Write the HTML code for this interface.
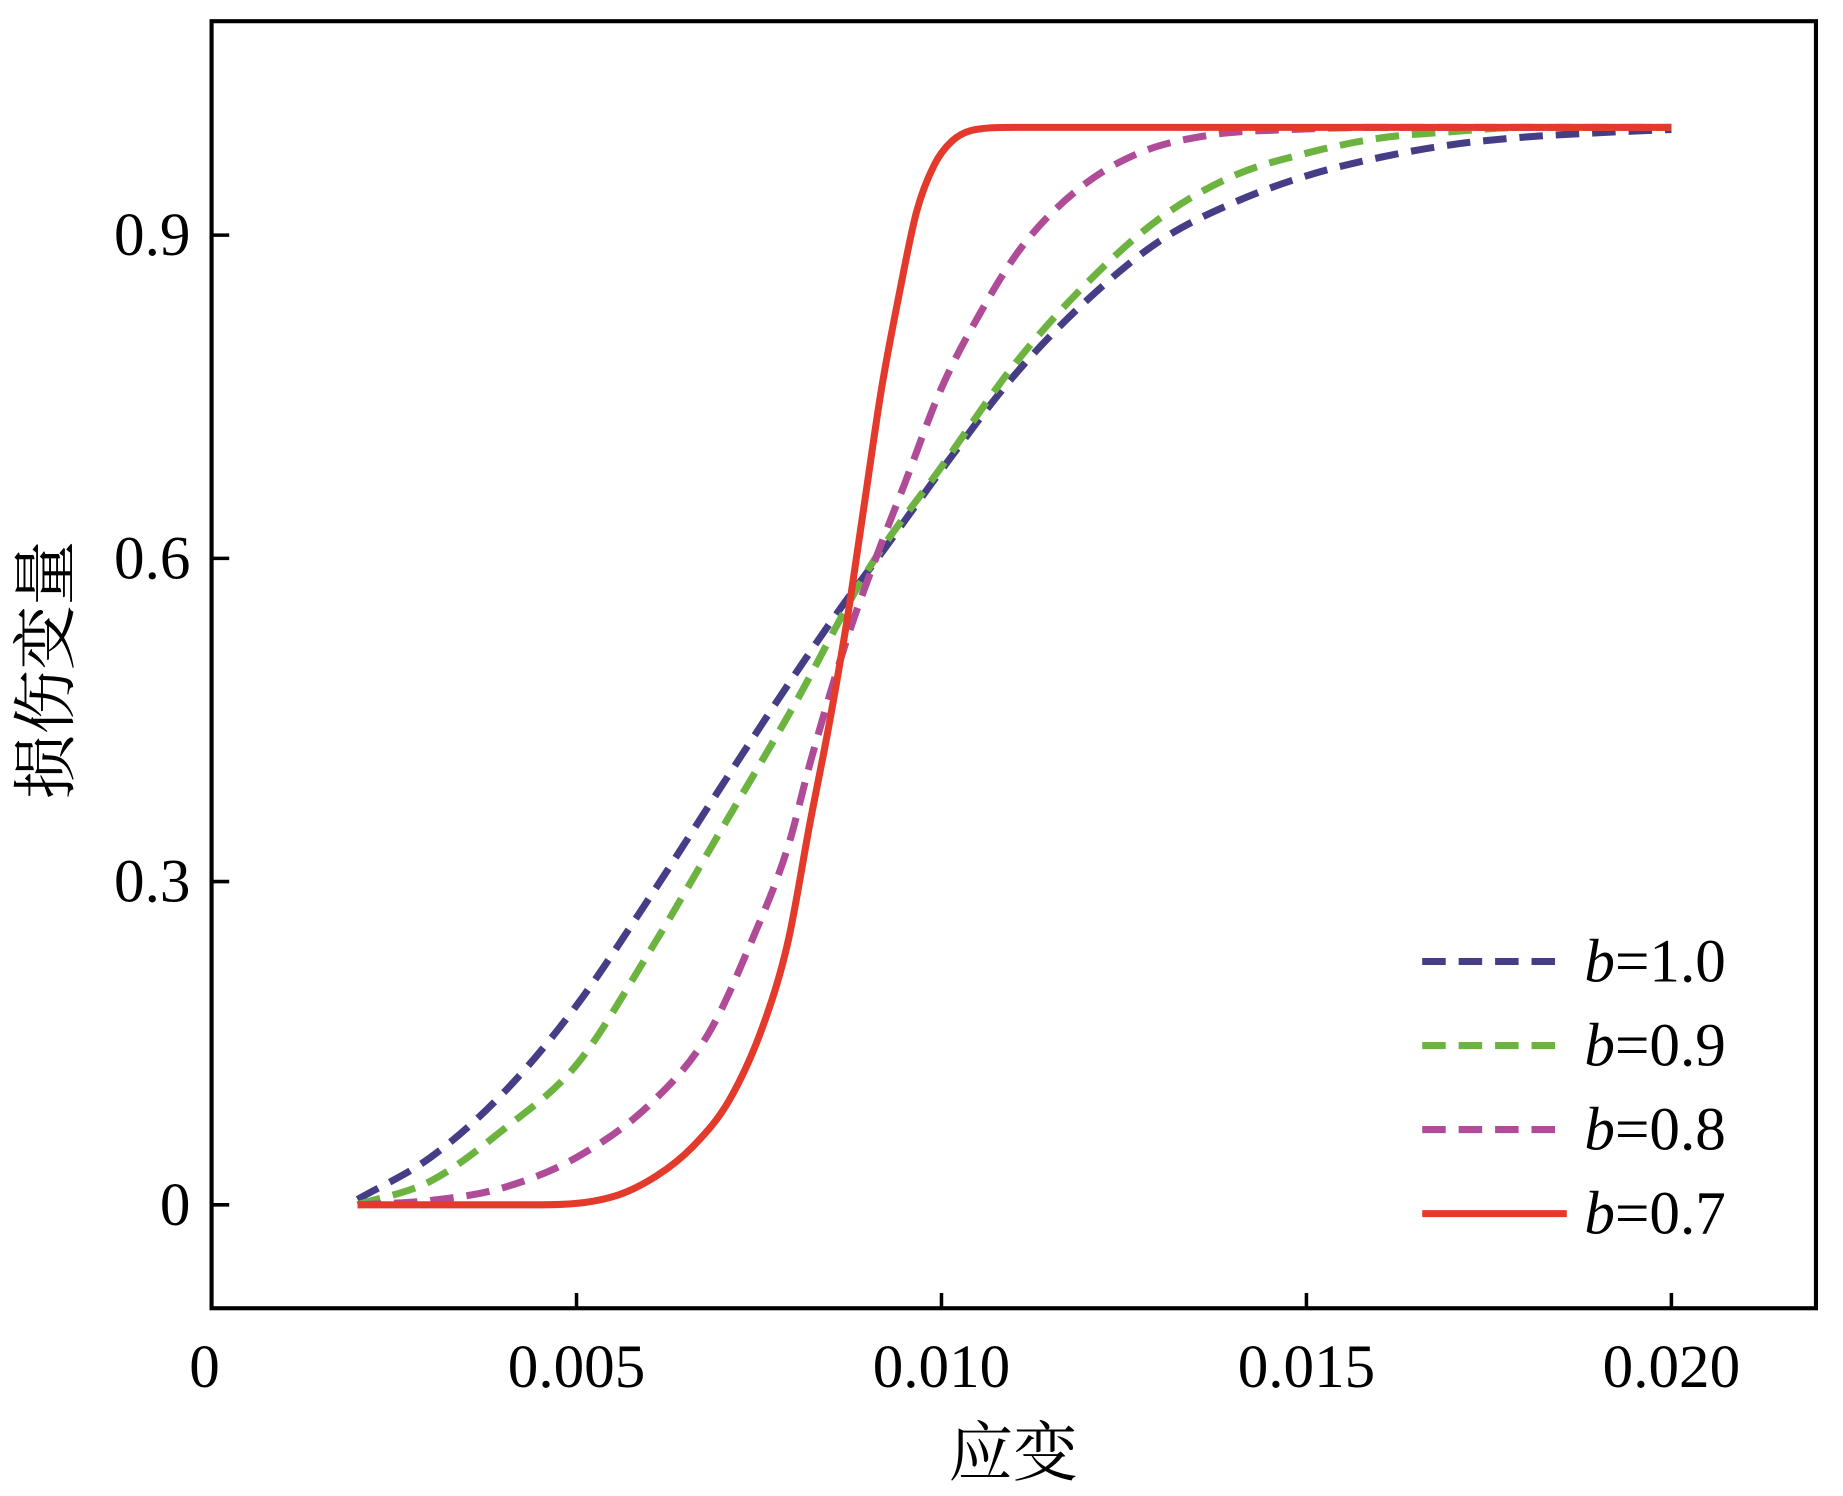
<!DOCTYPE html>
<html><head><meta charset="utf-8"><style>
html,body{margin:0;padding:0;background:#fff}
svg{display:block}
text{font-family:"Liberation Serif","Noto Serif CJK SC",serif;fill:#000}
</style></head><body>
<svg id="chart" width="1843" height="1496" viewBox="0 0 1568 1272.7" xmlns="http://www.w3.org/2000/svg">
<rect x="180" y="18" width="1365" height="1095" fill="none" stroke="#000" stroke-width="3.5"/>
<g id="ticks"></g>
<g id="series"></g>
<text transform="translate(58,570) rotate(-90)" text-anchor="middle" font-size="55">损伤变量</text>
<text x="862" y="1255" text-anchor="middle" font-size="55">应变</text>
<g id="legend"></g>
</svg>
<script>
const xTicks=[0,0.005,0.010,0.015,0.020];
const xTickLabels=["0","0.005","0.010","0.015","0.020"];
const yTicks=[0,0.3,0.6,0.9];
const yTickLabels=["0","0.3","0.6","0.9"];
const seriesNames=["b=1.0","b=0.9","b=0.8","b=0.7"];
const xB1=[0.002,0.003,0.004,0.005,0.006,0.007,0.008,0.0086,0.0092,0.0100,0.011,0.012,0.013,0.014,0.015,0.016,0.017,0.018,0.019,0.020];
const yB1=[0.005,0.044,0.104,0.185,0.285,0.39,0.493,0.552,0.607,0.682,0.77,0.84,0.895,0.93,0.955,0.972,0.984,0.991,0.995,0.998];
const xB09=[0.002,0.003,0.004,0.005,0.006,0.007,0.0080,0.0090,0.0100,0.011,0.012,0.013,0.014,0.015,0.016,0.017,0.018,0.020];
const yB09=[0.0,0.022,0.07,0.13,0.235,0.35,0.466,0.59,0.685,0.78,0.856,0.916,0.955,0.976,0.99,0.996,1.0,1.0];
const xB08=[0.002,0.003,0.004,0.005,0.006,0.0068,0.0074,0.0079,0.0082,0.0087,0.0091,0.0095,0.0100,0.0105,0.0111,0.0119,0.0127,0.0137,0.0148,0.016,0.020];
const yB08=[0.0,0.004,0.016,0.044,0.093,0.158,0.245,0.333,0.41,0.524,0.6,0.67,0.758,0.824,0.889,0.944,0.976,0.993,0.998,1.0,1.0];
const xB07=[0.002,0.0045,0.0055,0.0061,0.0066,0.0071,0.00757,0.0079,0.0082,0.00845,0.0087,0.00894,0.00918,0.00942,0.00966,0.0099,0.01014,0.01047,0.011,0.020];
const yB07=[0.0,0.0,0.0076,0.027,0.0545,0.098,0.169,0.245,0.355,0.442,0.54,0.649,0.758,0.845,0.922,0.965,0.987,0.998,1.0,1.0];
const colors=["#453e87","#6cb43f","#b04c97","#e33a2c"];
const dashes=["20,11","20,11","20,11",""];
const NS="http://www.w3.org/2000/svg";
const X=v=>180+v*62100;
const Y=v=>1025-v*916.7;
function mk(tag,attrs,parent){const e=document.createElementNS(NS,tag);for(const k in attrs)e.setAttribute(k,attrs[k]);parent.appendChild(e);return e;}
const tg=document.getElementById('ticks');
xTicks.forEach((v,i)=>{
 const t=mk('line',{x1:X(v),x2:X(v),y1:1113,y2:1100,stroke:'#000','stroke-width':3},tg);
 
 
 const l=mk('text',{x:X(v)+(i==0?-6:0),y:1180,'text-anchor':'middle','font-size':52},tg);
 l.textContent=xTickLabels[i];
 
 
});
yTicks.forEach((v,i)=>{
 const t=mk('line',{x1:180,x2:195,y1:Y(v),y2:Y(v),stroke:'#000','stroke-width':3},tg);
 
 
 const l=mk('text',{x:162,y:Y(v)+17,'text-anchor':'end','font-size':52},tg);
 l.textContent=yTickLabels[i];
 
 
});
function monoPath(pts){
 const n=pts.length,dx=[],s=[],m=[];
 for(let i=0;i<n-1;i++){dx[i]=pts[i+1][0]-pts[i][0];s[i]=(pts[i+1][1]-pts[i][1])/dx[i];}
 m[0]=s[0];m[n-1]=s[n-2];
 for(let i=1;i<n-1;i++){m[i]=(s[i-1]*s[i]<=0)?0:(s[i-1]+s[i])/2;}
 for(let i=0;i<n-1;i++){
  if(s[i]===0){m[i]=0;m[i+1]=0;continue;}
  const a=m[i]/s[i],b=m[i+1]/s[i],h=a*a+b*b;
  if(h>9){const t=3/Math.sqrt(h);m[i]=t*a*s[i];m[i+1]=t*b*s[i];}
 }
 let d='M'+pts[0][0]+','+pts[0][1];
 for(let i=0;i<n-1;i++){
  const h=dx[i]/3;
  d+=' C'+(pts[i][0]+h)+','+(pts[i][1]+m[i]*h)+' '+(pts[i+1][0]-h)+','+(pts[i+1][1]-m[i+1]*h)+' '+pts[i+1][0]+','+pts[i+1][1];
 }
 return d;
}
const sg=document.getElementById('series');
const xs=[xB1,xB09,xB08,xB07], ys=[yB1,yB09,yB08,yB07];
xs.forEach((xa,s)=>{
 const pts=xa.map((x,i)=>[X(x),Y(ys[s][i])]);
 const p=mk('path',{d:monoPath(pts),fill:'none',stroke:colors[s],'stroke-width':6,'stroke-dasharray':dashes[s]||'none'},sg);
 
 
});
const lg=document.getElementById('legend');
seriesNames.forEach((n,i)=>{
 const yy=818+i*71.5;
 const l=mk('line',{x1:1210,x2:1333,y1:yy,y2:yy,stroke:colors[i],'stroke-width':6,'stroke-dasharray':dashes[i]||'none'},lg);
 
 
 const t=mk('text',{x:1348,y:yy+17,'font-size':52},lg);
 t.innerHTML='<tspan font-style="italic">b</tspan>='+n.split('=')[1];
 
 
});
</script>
</body></html>
